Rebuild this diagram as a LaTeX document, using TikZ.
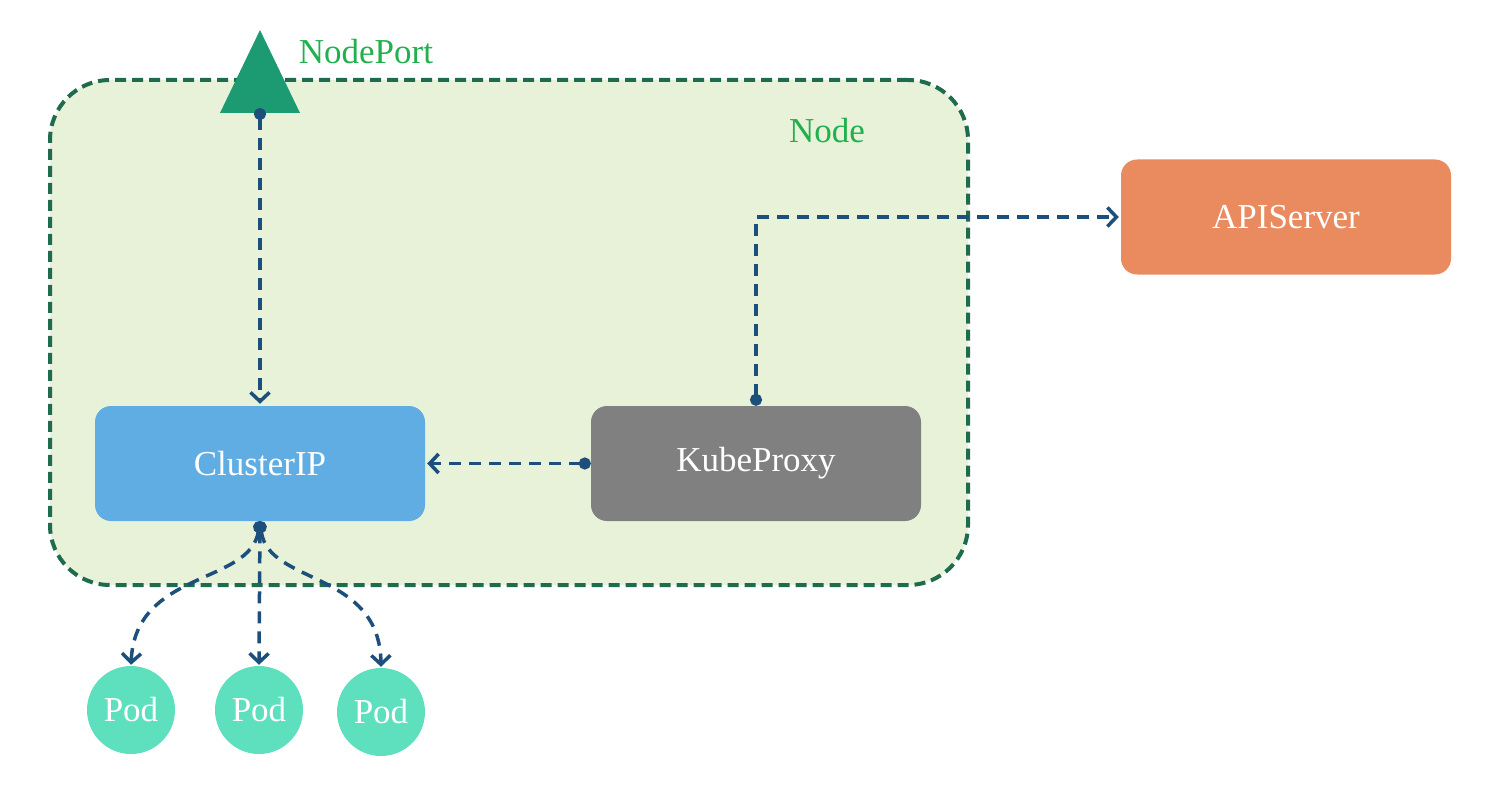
\documentclass[tikz,border=0pt]{standalone}
\usepackage{fontspec}
\setmainfont{Liberation Serif}
\usetikzlibrary{arrows.meta}
\definecolor{nodefill}{HTML}{E8F2D9}
\definecolor{nodeline}{HTML}{1E6B4E}
\definecolor{labelgreen}{HTML}{22B04F}
\definecolor{tri}{HTML}{1C9A72}
\definecolor{cipc}{HTML}{60ADE4}
\definecolor{kpc}{HTML}{808080}
\definecolor{apic}{HTML}{E98B5F}
\definecolor{podc}{HTML}{5EE0BF}
\definecolor{arr}{HTML}{1C4F7C}
\begin{document}
\begin{tikzpicture}[x=1pt,y=-1pt,
  font=\fontsize{35}{40}\selectfont,
  container/.style={draw=nodeline, fill=nodefill, line width=4pt, dash pattern=on 11pt off 6pt, rounded corners=60pt, minimum width=918pt, minimum height=505pt, inner sep=0pt},
  box/.style={rectangle, rounded corners=16pt, minimum width=330pt, minimum height=115pt, text=white, inner sep=0pt},
  poddisk/.style={circle, fill=podc, minimum size=88pt, text=white, inner sep=0pt},
  lbl/.style={text=labelgreen, inner sep=0pt},
  conn/.style={draw=arr, line width=3.5pt, dash pattern=on 12pt off 8pt, {Circle[length=12pt]}-{Straight Barb[length=9pt,width=19pt]}}
]
\useasboundingbox (0,0) rectangle (1498,794);
\node[container] (nodebox) at (509,332.5) {};
\node[lbl] (nodelbl) at (827,131) {Node};
\fill[tri] (260,30) -- (300,113) -- (220,113) -- cycle;
\coordinate (np) at (260,108);
\node[lbl] (nplbl) at (366,52) {NodePort};
\node[box, fill=cipc] (cip) at (260,463.5) {ClusterIP};
\node[box, fill=kpc] (kp) at (756,463.5) {KubeProxy};
\node[box, fill=apic] (api) at (1286,217) {APIServer};
\node[poddisk] (pod1) at (131,710) {Pod};
\node[poddisk] (pod2) at (259,710) {Pod};
\node[poddisk] (pod3) at (381,712) {Pod};
\draw[conn, shorten >=2pt] (np) -- (cip.north);
\draw[conn, shorten >=2pt] (kp.west) -- (cip.east);
\draw[conn, shorten >=2pt] (kp.north) |- (api.west);
\draw[conn, shorten >=1pt] (cip.south) .. controls (250,585) and (135,570) .. (pod1.north);
\draw[conn, shorten >=1pt] (cip.south) -- (pod2.north);
\draw[conn, shorten >=1pt] (cip.south) .. controls (268,585) and (380,570) .. (pod3.north);
\end{tikzpicture}
\end{document}
